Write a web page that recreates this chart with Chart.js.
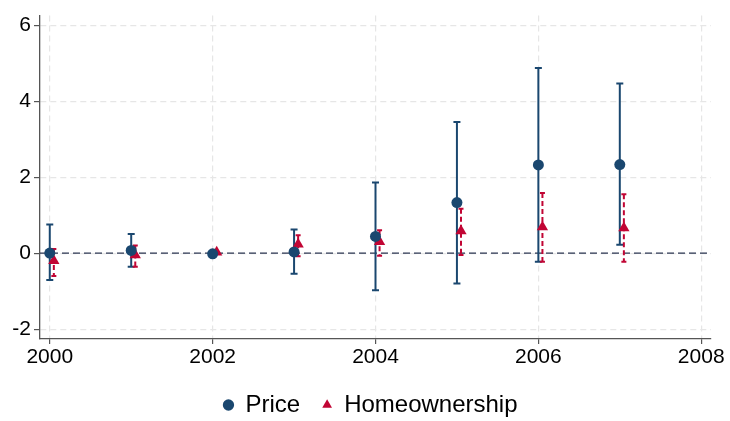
<!DOCTYPE html>
<html>
<head>
<meta charset="utf-8">
<script src="https://cdn.jsdelivr.net/npm/chart.js@4.4.1/dist/chart.umd.min.js"></script>
<style>
  html, body { margin: 0; padding: 0; background: #fff; }
  #wrap { width: 730px; height: 421px; }
</style>
</head>
<body>
<div id="wrap"><canvas id="chart"></canvas></div>
<script>
const years = [2000, 2001, 2002, 2003, 2004, 2005, 2006, 2007];
const priceEst = [0.00, 0.07, -0.02, 0.03, 0.44, 1.33, 2.32, 2.33];
const priceLo = [-0.71, -0.36, -0.02, -0.54, -0.98, -0.80, -0.23, 0.22];
const priceHi = [0.75, 0.50, -0.02, 0.62, 1.86, 3.45, 4.87, 4.46];
const homeEst = [-0.20, -0.05, 0.02, 0.23, 0.30, 0.58, 0.69, 0.66];
const homeLo = [-0.60, -0.36, 0.02, -0.08, -0.07, -0.05, -0.23, -0.23];
const homeHi = [0.11, 0.20, 0.02, 0.47, 0.60, 1.17, 1.58, 1.55];
const xTicks = [2000, 2002, 2004, 2006, 2008];
const yTicks = [-2, 0, 2, 4, 6];
const homeShift = 0.05; // homeownership markers sit slightly right of the year

const navy = "#1a476f";
const cranberry = "#c10534";
const fontFamily = "Liberation Sans, Arial, sans-serif";

// Error bars and the zero reference line, drawn under the markers
const errorBars = {
    id: "errorBars",
    beforeDatasetsDraw(chart) {
        const { ctx, chartArea, scales: { x, y } } = chart;
        ctx.save();

        // dashed reference line at zero
        const y0 = y.getPixelForValue(0);
        ctx.strokeStyle = "#2a3550";
        ctx.lineWidth = 1.3;
        ctx.setLineDash([7, 4]);
        ctx.beginPath();
        ctx.moveTo(chartArea.left, y0);
        ctx.lineTo(chartArea.right, y0);
        ctx.stroke();

        chart.data.datasets.forEach(ds => {
            ctx.strokeStyle = ds.borderColor;
            ctx.lineWidth = 2;
            ds.data.forEach((pt, i) => {
                const px = x.getPixelForValue(pt.x);
                const top = y.getPixelForValue(ds.errHi[i]);
                const bot = y.getPixelForValue(ds.errLo[i]);
                if (Math.abs(bot - top) < 1) return;
                ctx.setLineDash(ds.errDash);
                ctx.beginPath();
                ctx.moveTo(px, top);
                ctx.lineTo(px, bot);
                ctx.stroke();
                ctx.setLineDash([]);
                ctx.beginPath();
                ctx.moveTo(px - ds.capHalf, top);
                ctx.lineTo(px + ds.capHalf, top);
                ctx.moveTo(px - ds.capHalf, bot);
                ctx.lineTo(px + ds.capHalf, bot);
                ctx.stroke();
            });
        });
        ctx.restore();
    }
};

// Nudge the legend so it is centred under the plot rather than the canvas
const legendNudge = {
    id: "legendNudge",
    afterLayout(chart) {
        if (chart.legend) chart.legend.left += 30;
    }
};

new Chart(document.getElementById("chart"), {
    type: "scatter",
    data: {
        datasets: [
            {
                label: "Price",
                data: years.map((yr, i) => ({ x: yr, y: priceEst[i] })),
                errLo: priceLo,
                errHi: priceHi,
                errDash: [],
                capHalf: 3.5,
                pointStyle: "circle",
                pointRadius: 5.5,
                pointHoverRadius: 5.5,
                backgroundColor: navy,
                borderColor: navy,
                borderWidth: 0
            },
            {
                label: "Homeownership",
                data: years.map((yr, i) => ({ x: yr + homeShift, y: homeEst[i] })),
                errLo: homeLo,
                errHi: homeHi,
                errDash: [5, 3],
                capHalf: 2.5,
                pointStyle: "triangle",
                pointRadius: 6.5,
                pointHoverRadius: 6.5,
                backgroundColor: cranberry,
                borderColor: cranberry,
                borderWidth: 0
            }
        ]
    },
    options: {
        responsive: true,
        maintainAspectRatio: false,
        animation: false,
        layout: { padding: { left: 0, right: 19, top: 12, bottom: -6 } },
        plugins: {
            tooltip: { enabled: false },
            legend: {
                position: "bottom",
                labels: {
                    usePointStyle: true,
                    boxWidth: 10,
                    boxHeight: 8,
                    padding: 22,
                    color: "#000",
                    font: { family: fontFamily, size: 24 }
                }
            }
        },
        scales: {
            x: {
                type: "linear",
                min: 1999.88,
                max: 2008.12,
                afterBuildTicks: scale => { scale.ticks = xTicks.map(v => ({ value: v })); },
                afterFit: scale => { scale.height = 32; },
                ticks: {
                    color: "#000",
                    padding: 1,
                    maxRotation: 0,
                    font: { family: fontFamily, size: 21 },
                    callback: v => String(v)
                },
                grid: {
                    color: "#e6e6e6",
                    lineWidth: 1.2,
                    tickColor: "#555",
                    tickLength: 5,
                    tickWidth: 1.2
                },
                border: { color: "#555", width: 1.3, dash: [6, 4] }
            },
            y: {
                min: -2.26,
                max: 6.25,
                afterBuildTicks: scale => { scale.ticks = yTicks.map(v => ({ value: v })); },
                afterFit: scale => { scale.width = 40; },
                ticks: {
                    color: "#000",
                    padding: 3,
                    font: { family: fontFamily, size: 21 },
                    callback: v => String(v)
                },
                grid: {
                    color: "#e6e6e6",
                    lineWidth: 1.2,
                    tickColor: "#555",
                    tickLength: 6,
                    tickWidth: 1.2
                },
                border: { color: "#555", width: 1.3, dash: [6, 4] }
            }
        }
    },
    plugins: [errorBars, legendNudge]
});
</script>
</body>
</html>
